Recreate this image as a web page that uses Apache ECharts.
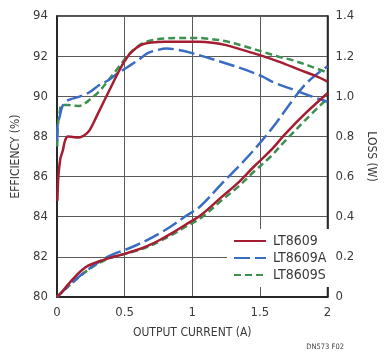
<!DOCTYPE html>
<html>
<head>
<meta charset="utf-8">
<script src="https://cdn.jsdelivr.net/npm/echarts@6/dist/echarts.min.js"></script>
<style>
  html, body { margin: 0; padding: 0; background: #fff; }
  #chart { width: 385px; height: 352px; }
</style>
</head>
<body>
<div id="chart"></div>
<script>
// efficiency (%) vs output current (A)
const effLT8609 = [[0.003, 84.8], [0.01, 86.0], [0.025, 86.9], [0.043, 87.3], [0.06, 87.8], [0.08, 88.0], [0.12, 87.97], [0.16, 87.95], [0.2, 88.05], [0.24, 88.3], [0.3, 89.1], [0.38, 90.2], [0.45, 91.15], [0.5, 91.75], [0.55, 92.2], [0.62, 92.55], [0.7, 92.68], [0.8, 92.72], [0.93, 92.72], [1.05, 92.72], [1.15, 92.67], [1.25, 92.55], [1.35, 92.35], [1.5, 92.05], [1.65, 91.7], [1.8, 91.3], [1.9, 91.05], [2.0, 90.73]]
const effLT8609A = [[0.002, 87.8], [0.005, 88.6], [0.02, 89.0], [0.04, 89.5], [0.07, 89.75], [0.1, 89.85], [0.16, 89.97], [0.24, 90.2], [0.31, 90.55], [0.38, 90.8], [0.45, 91.15], [0.52, 91.45], [0.6, 91.8], [0.67, 92.15], [0.74, 92.3], [0.81, 92.38], [0.88, 92.33], [1.0, 92.15], [1.1, 91.95], [1.24, 91.66], [1.38, 91.35], [1.52, 90.98], [1.6, 90.7], [1.76, 90.3], [1.88, 90.0], [2.0, 89.73]]
const effLT8609S = [[0.002, 87.5], [0.006, 88.5], [0.02, 89.2], [0.036, 89.57], [0.08, 89.57], [0.12, 89.53], [0.164, 89.52], [0.2, 89.62], [0.24, 89.82], [0.31, 90.23], [0.38, 90.8], [0.45, 91.4], [0.52, 92.0], [0.59, 92.45], [0.66, 92.72], [0.74, 92.84], [0.81, 92.89], [0.9, 92.91], [1.0, 92.91], [1.1, 92.88], [1.24, 92.75], [1.38, 92.5], [1.52, 92.22], [1.64, 91.97], [1.74, 91.8], [1.88, 91.48], [2.0, 91.18]]

// loss (W) vs output current (A)
const lossLT8609 = [[0, 0], [0.04, 0.028], [0.088, 0.067], [0.14, 0.105], [0.183, 0.133], [0.23, 0.156], [0.28, 0.17], [0.34, 0.184], [0.4, 0.197], [0.5, 0.215], [0.59, 0.234], [0.67, 0.255], [0.76, 0.284], [0.85, 0.318], [0.95, 0.36], [1.06, 0.406], [1.22, 0.5], [1.34, 0.57], [1.455, 0.649], [1.58, 0.73], [1.69, 0.814], [1.84, 0.917], [2.0, 1.015]]
const lossLT8609A = [[0, 0], [0.09, 0.058], [0.2, 0.122], [0.3, 0.17], [0.4, 0.209], [0.5, 0.234], [0.59, 0.259], [0.67, 0.285], [0.76, 0.318], [0.85, 0.355], [0.95, 0.402], [1.06, 0.452], [1.22, 0.566], [1.34, 0.648], [1.455, 0.732], [1.6, 0.849], [1.76, 0.997], [1.86, 1.075], [2.0, 1.15]]
const lossLT8609S = [[0, 0], [0.09, 0.057], [0.2, 0.12], [0.3, 0.165], [0.4, 0.197], [0.5, 0.214], [0.59, 0.231], [0.67, 0.25], [0.76, 0.278], [0.85, 0.31], [0.95, 0.35], [1.06, 0.392], [1.22, 0.483], [1.34, 0.55], [1.455, 0.624], [1.58, 0.7], [1.69, 0.78], [1.84, 0.884], [2.0, 0.99]]

const xTicks = ['0', '0.5', '1', '1.5', '2']
const effTicks = ['80', '82', '84', '86', '88', '90', '92', '94']
const lossTicks = ['0', '0.2', '0.4', '0.6', '0.8', '1.0', '1.2', '1.4']
const names = ['LT8609', 'LT8609A', 'LT8609S']

const font = "'Liberation Sans Narrow', 'DejaVu Sans Condensed', 'Liberation Sans', sans-serif"
const txt = '#3a3a3a'
const colors = ['#a41d30', '#3b6cc4', '#3c9150']
const dashes = ['solid', [16, 5], [7, 4]]

const chart = echarts.init(document.getElementById('chart'))

const mk = (i, data, yIdx) => ({
  name: names[i],
  type: 'line',
  yAxisIndex: yIdx,
  data: data,
  smooth: 0.35,
  symbol: 'none',
  showSymbol: false,
  z: 3 - i,
  lineStyle: { color: colors[i], width: 2.5, type: dashes[i] },
  itemStyle: { color: colors[i] }
})

chart.setOption({
  animation: false,
  textStyle: { fontFamily: font },
  grid: { left: 57, right: 48, top: 16, bottom: 55, show: true, borderColor: '#1a1a1a', borderWidth: 1.5 },
  legend: {
    data: names,
    orient: 'vertical',
    left: 227,
    top: 229,
    itemWidth: 32,
    itemHeight: 14,
    itemGap: 3,
    backgroundColor: '#fff',
    padding: [5, 6, 5, 6],
    itemStyle: { opacity: 0 },
    textStyle: { fontFamily: font, fontSize: 14, color: txt, padding: [0, 0, 0, 2] }
  },
  xAxis: {
    type: 'value',
    min: 0, max: 2, interval: 0.5,
    name: 'OUTPUT CURRENT (A)',
    nameLocation: 'middle',
    nameGap: 30,
    nameTextStyle: { fontFamily: font, fontSize: 12, color: txt },
    axisLine: { lineStyle: { color: '#1a1a1a', width: 1.5 } },
    axisTick: { show: false },
    axisLabel: { fontFamily: font, fontSize: 13, color: txt, margin: 9, formatter: (v) => xTicks[Math.round(v / 0.5)] },
    splitLine: { lineStyle: { color: '#5a5a5a', width: 1 } }
  },
  yAxis: [{
    type: 'value',
    min: 80, max: 94, interval: 2,
    name: 'EFFICIENCY (%)',
    nameLocation: 'middle',
    nameGap: 29,
    nameTextStyle: { fontFamily: font, fontSize: 12, color: txt },
    axisLine: { show: true, lineStyle: { color: '#1a1a1a', width: 1.5 } },
    axisTick: { show: false },
    axisLabel: { fontFamily: font, fontSize: 13, color: txt, margin: 9, formatter: (v) => effTicks[Math.round((v - 80) / 2)] },
    splitLine: { lineStyle: { color: '#5a5a5a', width: 1 } }
  }, {
    type: 'value',
    min: 0, max: 1.4, interval: 0.2,
    name: 'LOSS (W)',
    nameLocation: 'middle',
    nameGap: 29,
    nameRotate: -90,
    nameTextStyle: { fontFamily: font, fontSize: 12, color: txt },
    axisLine: { show: true, lineStyle: { color: '#1a1a1a', width: 1.5 } },
    axisTick: { show: false },
    axisLabel: { fontFamily: font, fontSize: 13, color: txt, margin: 8, formatter: (v) => lossTicks[Math.round(v / 0.2)] },
    splitLine: { show: false }
  }],
  graphic: [{
    type: 'text',
    right: 41,
    bottom: 1,
    style: { text: 'DN573 F02', fontFamily: font, fontSize: 7.5, fill: '#444' }
  }],
  series: [
    mk(0, effLT8609, 0),
    mk(1, effLT8609A, 0),
    mk(2, effLT8609S, 0),
    mk(0, lossLT8609, 1),
    mk(1, lossLT8609A, 1),
    mk(2, lossLT8609S, 1)
  ]
})
</script>
</body>
</html>
